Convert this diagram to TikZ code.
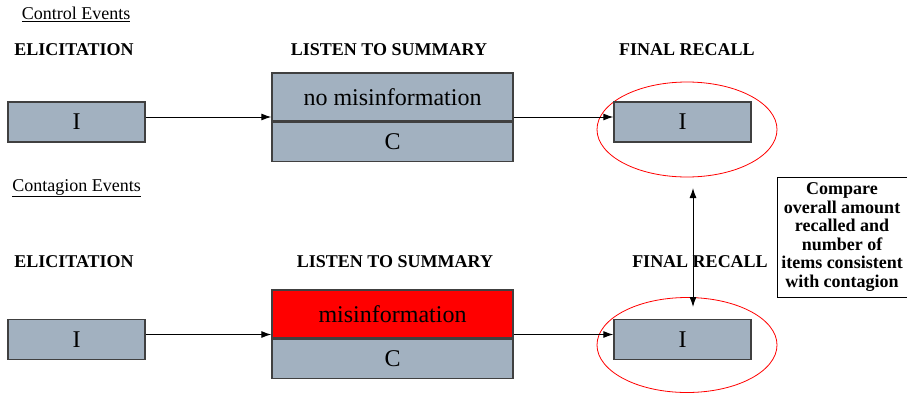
\documentclass[tikz,border=0pt]{standalone}
\usepackage{fontspec}
\setmainfont{Liberation Serif}
\usetikzlibrary{arrows.meta,positioning,shapes.geometric}
\definecolor{boxgray}{RGB}{162,177,192}

\begin{document}
\begin{tikzpicture}[x=1pt,y=-1pt,
    group/.style={font=\fontsize{18}{20}\selectfont,inner sep=0pt},
    heading/.style={font=\fontsize{18}{20}\selectfont\bfseries,inner sep=0pt},
    item/.style={rectangle,draw=black!75,line width=1.3pt,fill=boxgray,minimum width=137pt,minimum height=40pt,font=\fontsize{24}{28}\selectfont,inner sep=0pt},
    sumtop/.style={rectangle,draw=black!75,line width=1.3pt,fill=boxgray,minimum width=241pt,minimum height=48pt,font=\fontsize{24}{28}\selectfont,inner sep=0pt},
    sumbot/.style={rectangle,draw=black!75,line width=1.3pt,fill=boxgray,minimum width=241pt,minimum height=39pt,font=\fontsize{24}{28}\selectfont,inner sep=0pt},
    ring/.style={ellipse,draw=red,line width=0.8pt,minimum width=180pt,minimum height=95pt},
    note/.style={rectangle,draw,line width=0.9pt,minimum width=130pt,minimum height=120pt,align=center,font=\fontsize{18}{18.6}\selectfont\bfseries,inner sep=1pt},
    arrow/.style={-{Latex[length=10pt,width=7pt]},line width=1pt}
]
\useasboundingbox (0,0) rectangle (907,394);

% Control events (top row)
\node[group] (ctrl) at (76,14) {\underline{Control Events}};
\node[heading] (elic1h) at (74,50) {ELICITATION};
\node[heading] (list1h) at (389,50) {LISTEN TO SUMMARY};
\node[heading] (fin1h) at (687,50) {FINAL RECALL};

\node[item] (elic1) at (76.5,122) {I};
\node[sumtop] (sum1top) at (392.5,97) {no misinformation};
\node[sumbot,below=0pt of sum1top] (sum1bot) {C};
\node[ring] (ring1) at (687,129.5) {};
\node[item] (fin1) at (682.5,122) {I};

% Contagion events (bottom row)
\node[group] (cont) at (76.5,188) {\underline{Contagion Events}};
\node[heading] (elic2h) at (74,262) {ELICITATION};
\node[heading] (list2h) at (395,262) {LISTEN TO SUMMARY};
\node[heading] (fin2h) at (700,262) {FINAL RECALL};

\node[item] (elic2) at (76.5,339.5) {I};
\node[sumtop,fill=red] (sum2top) at (392.5,314) {misinformation};
\node[sumbot,below=0pt of sum2top] (sum2bot) {C};
\node[ring] (ring2) at (687,345) {};
\node[item] (fin2) at (682.5,339.5) {I};

% Comparison note
\node[note] (cmp) at (842,237) {Compare\\overall amount\\recalled and\\number of\\items consistent\\with contagion};
\coordinate (cmptop) at (693,188);
\coordinate (cmpbot) at (693,307);

% Arrows
\draw[arrow] ([yshift=5pt]elic1.east) -- ([yshift=5pt]elic1.east -| sum1top.west);
\draw[arrow] ([yshift=5pt]fin1.west -| sum1top.east) -- ([yshift=5pt]fin1.west);
\draw[arrow] ([yshift=5pt]elic2.east) -- ([yshift=5pt]elic2.east -| sum2top.west);
\draw[arrow] ([yshift=5pt]fin2.west -| sum2top.east) -- ([yshift=5pt]fin2.west);
\draw[arrow,{Latex[length=10pt,width=7pt]}-{Latex[length=10pt,width=7pt]}] (cmptop) -- (cmpbot);

\end{tikzpicture}
\end{document}
